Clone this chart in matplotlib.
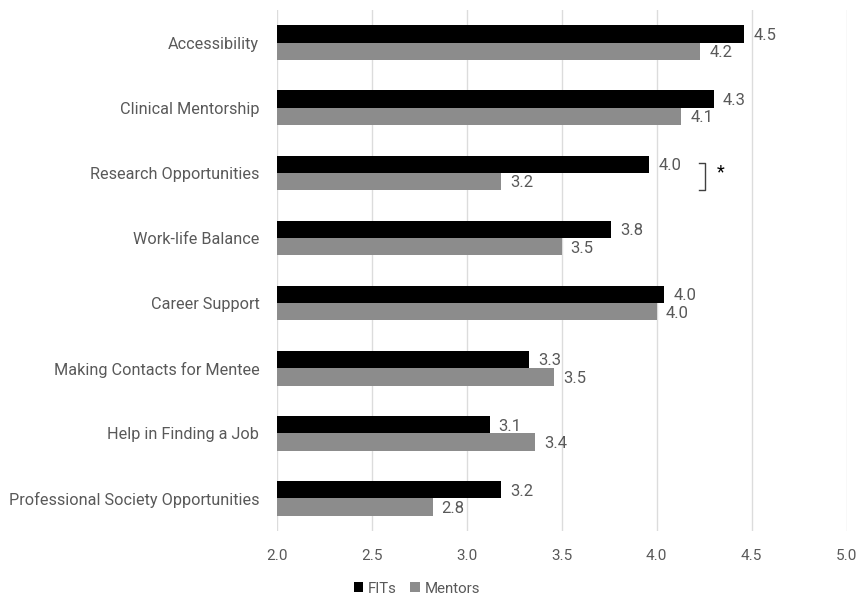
import numpy as np
import matplotlib
matplotlib.use("Agg")
import matplotlib.pyplot as plt

categories = ['Accessibility', 'Clinical Mentorship', 'Research Opportunities',
              'Work-life Balance', 'Career Support', 'Making Contacts for Mentee',
              'Help in Finding a Job', 'Professional Society Opportunities']
fits = [4.46, 4.30, 3.96, 3.76, 4.04, 3.33, 3.12, 3.18]
mentors = [4.23, 4.13, 3.18, 3.50, 4.00, 3.46, 3.36, 2.82]
x_ticks = [2.0, 2.5, 3.0, 3.5, 4.0, 4.5, 5.0]

plt.rcParams['font.family'] = ['Roboto', 'DejaVu Sans']
text_gray = '#595959'

fig = plt.figure(figsize=(8.61, 5.96), dpi=100)
ax = fig.add_axes([0.3214, 0.109, 0.662, 0.874])

y = np.arange(len(categories))
h = 0.266
b1 = ax.barh(y - h / 2, fits, height=h, color='black', label='FITs', zorder=3)
b2 = ax.barh(y + h / 2, mentors, height=h, color='#8c8c8c', label='Mentors', zorder=3)

for bars, vals in [(b1, fits), (b2, mentors)]:
    for bar, v in zip(bars, vals):
        ax.annotate(f'{v:.1f}', (v, bar.get_y() + bar.get_height() / 2),
                    xytext=(6.5, -1), textcoords='offset points',
                    ha='left', va='center', fontsize=12, color=text_gray)

# significance bracket for Research Opportunities
i = categories.index('Research Opportunities')
bx = 4.224
ax.plot([bx, bx + 0.03, bx + 0.03, bx], [i - 0.145, i - 0.145, i + 0.265, i + 0.265],
        color='#404040', lw=1, zorder=4)
ax.text(bx + 0.115, i - 0.01, '*', fontsize=13, ha='center', va='center', color='black')

ax.set_xlim(2.0, 5.0)
ax.set_ylim(-0.5, len(categories) - 0.5)
ax.invert_yaxis()
ax.set_xticks(x_ticks)
ax.set_xticklabels([f'{t:.1f}' for t in x_ticks])
ax.set_yticks(y)
ax.set_yticklabels(categories)
ax.tick_params(axis='x', length=0, labelsize=11, labelcolor=text_gray, pad=13)
ax.tick_params(axis='y', length=0, labelsize=11.7, labelcolor=text_gray, pad=12.5)
ax.grid(axis='x', color='#dcdcdc', lw=1, zorder=0)
for s in ax.spines.values():
    s.set_visible(False)

fig.legend(handles=[b1, b2], loc='lower center', bbox_to_anchor=(0.484, -0.022), ncol=2,
           frameon=False, fontsize=10.8, handlelength=0.65, handleheight=0.65,
           handletextpad=0.3, columnspacing=0.9, labelcolor=text_gray)

fig.savefig('out.png', dpi=100)
